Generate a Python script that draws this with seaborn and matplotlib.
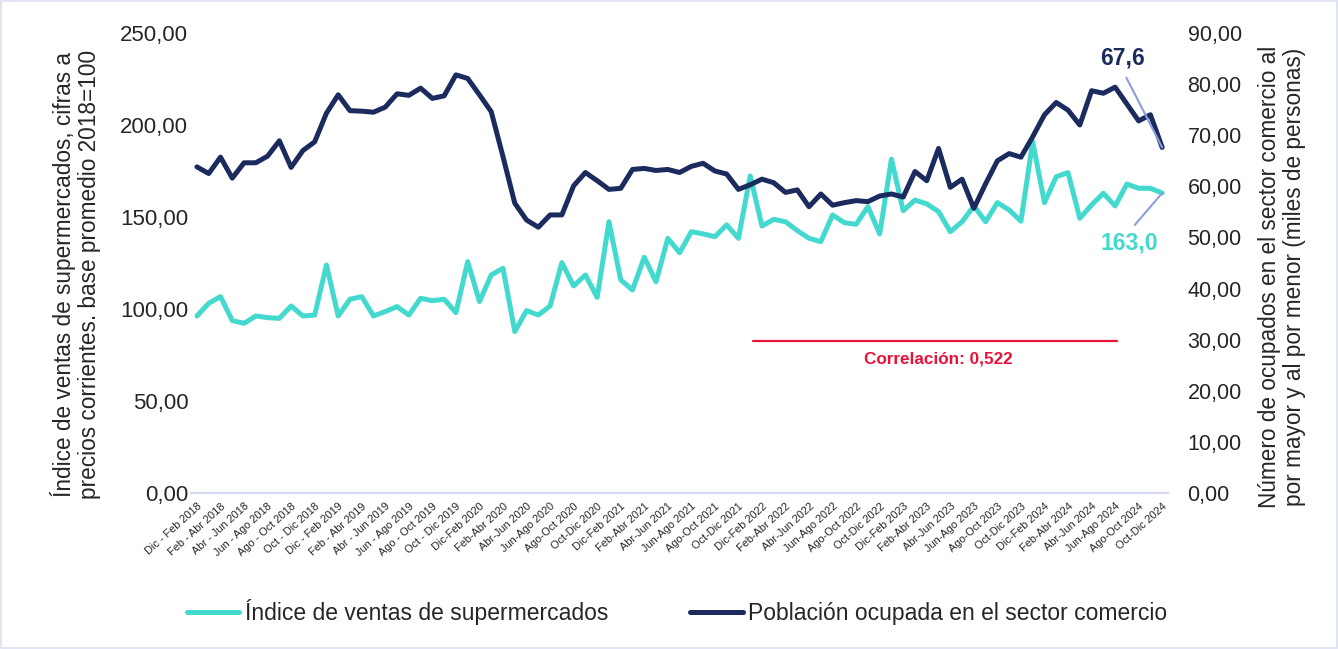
import numpy as np
import pandas as pd
import matplotlib
matplotlib.use("Agg")
import matplotlib.pyplot as plt
import seaborn as sns
from matplotlib.ticker import FuncFormatter, MultipleLocator

# DATA
years = [2018, 2019, 2020, 2021, 2022, 2023, 2024]
periods_spaced = ["Dic - Feb", "Feb - Abr", "Abr - Jun", "Jun - Ago", "Ago - Oct", "Oct - Dic"]
periods_tight = ["Dic-Feb", "Feb-Abr", "Abr-Jun", "Jun-Ago", "Ago-Oct", "Oct-Dic"]
tick_labels = []
for yr in years:
    names = periods_spaced if yr < 2020 else periods_tight
    tick_labels += [f"{p} {yr}" for p in names]

# índice de ventas de supermercados (left axis), trimestres móviles
ventas = [96.2, 103.1, 106.7, 93.7, 92.2, 96.2, 95.3, 94.9, 101.6, 96.2,
          96.7, 123.9, 96.2, 105.3, 106.7, 96.2, 98.6, 101.3, 96.7, 105.8,
          104.5, 105.3, 98.0, 125.7, 104.0, 118.5, 122.1, 87.7, 99.1, 96.7,
          101.6, 125.2, 112.5, 118.5, 106.3, 147.4, 115.8, 110.3, 128.1, 114.8,
          138.4, 130.6, 142.0, 140.8, 139.3, 145.7, 138.4, 172.3, 145.1, 148.7,
          147.4, 142.6, 138.4, 136.6, 151.1, 146.9, 146.0, 155.6, 140.8, 181.4,
          153.4, 159.2, 157.1, 152.9, 142.0, 147.4, 156.0, 147.4, 157.8, 153.8,
          147.7, 190.9, 157.8, 171.9, 174.1, 149.3, 156.5, 162.9, 156.0, 167.9,
          165.6, 165.6, 163.0]

# población ocupada en el sector comercio, miles de personas (right axis)
ocupados = [63.8, 62.5, 65.7, 61.6, 64.6, 64.6, 65.9, 68.9, 63.7, 67.0,
            68.7, 74.3, 77.9, 74.8, 74.7, 74.5, 75.5, 78.1, 77.8, 79.2,
            77.2, 77.7, 81.8, 81.1, 77.9, 74.6, 65.8, 56.7, 53.4, 52.0,
            54.4, 54.4, 60.1, 62.7, 61.1, 59.4, 59.6, 63.3, 63.5, 63.1,
            63.3, 62.7, 63.9, 64.5, 63.0, 62.4, 59.4, 60.3, 61.4, 60.7,
            58.8, 59.3, 56.0, 58.5, 56.3, 56.8, 57.2, 57.0, 58.1, 58.5,
            57.9, 62.9, 61.1, 67.4, 59.8, 61.4, 55.7, 60.5, 65.0, 66.4,
            65.7, 69.7, 74.0, 76.4, 74.9, 72.0, 78.7, 78.2, 79.4, 76.1,
            72.8, 74.0, 67.6]

correlacion = "0,522"

df = pd.DataFrame({"t": np.arange(len(ventas)), "ventas": ventas, "ocupados": ocupados})

TURQ = "#44D9CF"
NAVY = "#1B2B5E"
LEADER = "#8C9EDB"
RED = "#E8123A"

sns.set_style("white")
plt.rcParams["font.family"] = ["Liberation Sans", "DejaVu Sans"]

fig = plt.figure(figsize=(13.38, 6.49), dpi=100)
ax = fig.add_axes([0.1428, 0.2404, 0.7302, 0.7088])
ax2 = ax.twinx()

sns.lineplot(data=df, x="t", y="ventas", ax=ax, color=TURQ, lw=3.6,
             label="Índice de ventas de supermercados", legend=False)
sns.lineplot(data=df, x="t", y="ocupados", ax=ax2, color=NAVY, lw=3.6,
             label="Población ocupada en el sector comercio", legend=False)

fmt = FuncFormatter(lambda v, p: f"{v:.2f}".replace(".", ","))
ax.set_ylim(0, 250)
ax.yaxis.set_major_locator(MultipleLocator(50))
ax.yaxis.set_major_formatter(fmt)
ax2.set_ylim(0, 90)
ax2.yaxis.set_major_locator(MultipleLocator(10))
ax2.yaxis.set_major_formatter(fmt)

ax.set_xlim(-0.5, len(ventas) - 0.5)
ax.set_xticks(df["t"][::2])
ax.set_xticklabels(tick_labels, rotation=42, ha="right", rotation_mode="anchor",
                   fontsize=7.9)
ax.tick_params(axis="x", length=0, pad=6)
ax.tick_params(axis="y", length=0, labelsize=16, pad=2)
ax2.tick_params(axis="y", length=0, labelsize=15.5, pad=14)

for a in (ax, ax2):
    for s in ("top", "left", "right", "bottom"):
        a.spines[s].set_visible(False)
ax.spines["bottom"].set_visible(True)
ax.spines["bottom"].set_color("#D3DAF2")
ax.spines["bottom"].set_linewidth(1.6)

ax.set_xlabel("")
ax.set_ylabel("Índice de ventas de supermercados, cifras a\nprecios corrientes. base promedio 2018=100",
              fontsize=16.3, labelpad=14, linespacing=1.1)
ax2.set_ylabel("Número de ocupados en el sector comercio al\npor mayor y al por menor (miles de personas)",
               fontsize=16.3, labelpad=12, linespacing=1.1)
ax.yaxis.label.set_y(0.475)
ax2.yaxis.label.set_y(0.47)

# end-of-series labels with leader lines
n = len(ventas) - 1
ax2.annotate(f"{ocupados[-1]:.1f}".replace(".", ","), xy=(n, ocupados[-1]),
             xytext=(n - 3.4, 85.1), color=NAVY, fontsize=16.5, fontweight="bold",
             ha="center", va="center",
             arrowprops=dict(arrowstyle="-", color=LEADER, lw=1.5, relpos=(0.5, 0.0),
                             shrinkA=4, shrinkB=0))
ax.annotate(f"{ventas[-1]:.1f}".replace(".", ","), xy=(n, ventas[-1]),
             xytext=(n - 2.8, 135.9), color=TURQ, fontsize=16.5, fontweight="bold",
             ha="center", va="center",
             arrowprops=dict(arrowstyle="-", color=LEADER, lw=1.5, relpos=(0.5, 1.0),
                             shrinkA=3, shrinkB=0))

# correlation marker
ax.plot([47.2, 78.2], [82.5, 82.5], color=RED, lw=1.6)
ax.text(63.0, 72.8, f"Correlación: {correlacion}", color=RED, fontsize=12.3,
        fontweight="bold", ha="center", va="center")

h1, l1 = ax.get_legend_handles_labels()
h2, l2 = ax2.get_legend_handles_labels()
fig.legend(h1 + h2, l1 + l2, loc="center", bbox_to_anchor=(0.506, 0.057), ncol=2,
           frameon=False, fontsize=16.5, handlelength=2.3, columnspacing=3.6,
           handletextpad=0.22)

fig.patches.append(plt.Rectangle((0.001, 0.001), 0.998, 0.998, transform=fig.transFigure,
                                 fill=False, edgecolor="#DCDFF0", lw=1.2))

fig.savefig("out.png", dpi=100)
